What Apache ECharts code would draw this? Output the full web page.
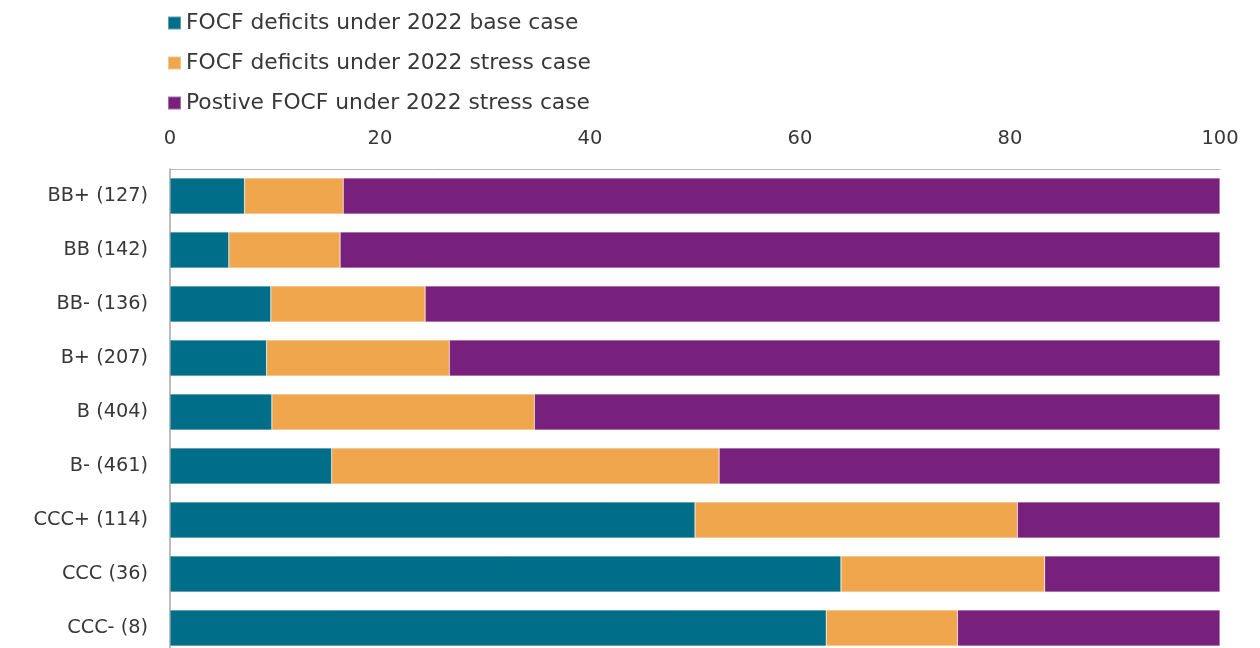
<!DOCTYPE html>
<html>
<head>
<meta charset="utf-8">
<script src="https://cdn.jsdelivr.net/npm/echarts@6/dist/echarts.min.js"></script>
<style>
  html, body { margin: 0; padding: 0; background: #fff; }
  #chart { width: 1260px; height: 648px; }
</style>
</head>
<body>
<div id="chart"></div>
<script>
// Rating categories (number of issuers in brackets)
const categories = ['BB+ (127)', 'BB (142)', 'BB- (136)', 'B+ (207)', 'B (404)', 'B- (461)', 'CCC+ (114)', 'CCC (36)', 'CCC- (8)'];
// Share of issuers (%), stacked to 100
const baseDeficit   = [7.1, 5.6, 9.6, 9.2, 9.7, 15.4, 50.0, 63.9, 62.5];
const stressDeficit = [9.4, 10.6, 14.7, 17.4, 25.0, 36.9, 30.7, 19.4, 12.5];
const positiveFocf  = [83.5, 83.8, 75.7, 73.4, 65.3, 47.7, 19.3, 16.7, 25.0];
const xTicks = [0, 20, 40, 60, 80, 100];

const seriesNames = ['FOCF deficits under 2022 base case', 'FOCF deficits under 2022 stress case', 'Postive FOCF under 2022 stress case'];
const colors = ['#006e89', '#f0a64c', '#77207c'];
const font = '"DejaVu Sans", "Noto Sans", sans-serif';
const textColor = '#383838';

const chart = echarts.init(document.getElementById('chart'), null, { renderer: 'canvas' });

function bar(name, data, color) {
  return {
    name, type: 'bar', stack: 'total', data,
    barCategoryGap: '33%',
    itemStyle: { color, borderColor: 'rgba(255,255,255,0.35)', borderWidth: 0.6 },
    emphasis: { disabled: true }
  };
}

chart.setOption({
  animation: false,
  textStyle: { fontFamily: font },
  legend: {
    orient: 'vertical', left: 162, top: 7,
    itemWidth: 13, itemHeight: 13, itemGap: 18,
    icon: 'rect',
    textStyle: { fontSize: 21.8, color: textColor, fontFamily: font },
    data: seriesNames
  },
  grid: { left: 170, width: 1050, top: 169, height: 486, containLabel: false, outerBoundsMode: 'none' },
  xAxis: {
    type: 'value', position: 'top', min: 0, max: 100, interval: 20,
    axisLine: { show: true, lineStyle: { color: '#bbb', width: 1 } },
    axisTick: { show: false },
    splitLine: { show: false },
    axisLabel: {
      fontSize: 19.5, color: textColor, margin: 20, fontFamily: font,
      formatter: v => xTicks.includes(v) ? String(v) : ''
    }
  },
  yAxis: {
    type: 'category', data: categories, inverse: true,
    axisLine: { show: true, lineStyle: { color: '#a6a6a6', width: 1.5 } },
    axisTick: { show: false },
    axisLabel: { fontSize: 19.3, color: textColor, margin: 22, fontFamily: font }
  },
  series: [
    bar(seriesNames[0], baseDeficit, colors[0]),
    bar(seriesNames[1], stressDeficit, colors[1]),
    bar(seriesNames[2], positiveFocf, colors[2])
  ]
});
</script>
</body>
</html>
